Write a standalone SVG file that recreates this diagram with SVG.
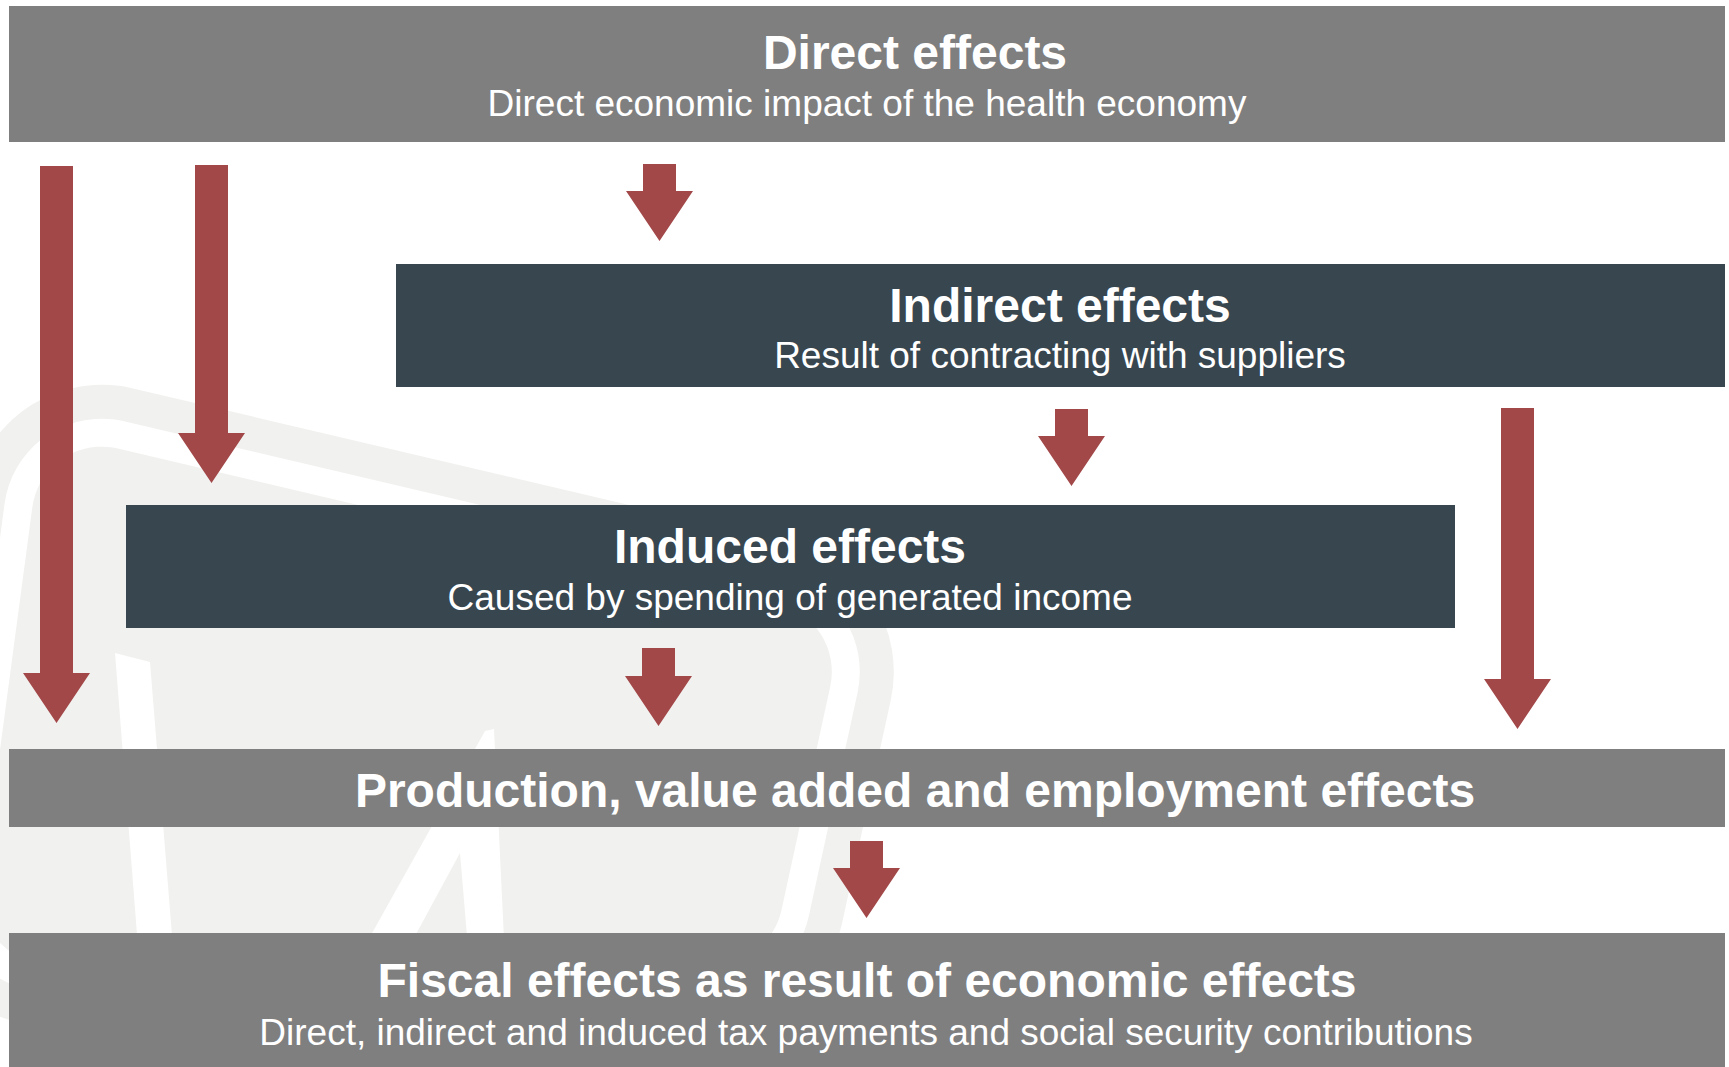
<svg xmlns="http://www.w3.org/2000/svg" width="1729" height="1067" viewBox="0 0 1729 1067">
  <style>
    .bar { fill: #7f7f7f; }
    .dark { fill: #37464f; }
    .t { font-family: "Liberation Sans", Arial, Helvetica, sans-serif; fill: #ffffff; text-anchor: middle; }
    .h { font-weight: bold; font-size: 48px; }
    .s { font-size: 37px; }
    .arrow { fill: #a34849; }
    .wm-gray { fill: #f1f1ef; stroke: #f1f1ef; stroke-linejoin: round; }
    .wm-white { fill: #ffffff; stroke: #ffffff; stroke-linejoin: round; }
  </style>
  <defs>
    <!-- core polygon of the faint background emblem; rounded rings are built by stroking it -->
    <path id="emblem" d="M101.7,516.7 L761.8,671.8 L713.1,895 L51.3,895 Z"/>
  </defs>

  <rect width="1729" height="1067" fill="#ffffff"/>

  <!-- faint background emblem -->
  <g id="emblem-bg">
    <use href="#emblem" class="wm-gray" stroke-width="264"/>
    <use href="#emblem" class="wm-white" stroke-width="196"/>
    <use href="#emblem" class="wm-gray" stroke-width="140"/>
    <polygon fill="#ffffff" points="115,653 150,662 174,960 139,960"/>
    <polygon fill="#ffffff" points="485,731 494,729 505,960 469,960 460,853 402,960 357,960"/>
  </g>

  <g id="node-direct">
    <rect class="bar" x="9" y="6" width="1716" height="136"/>
    <text class="t h" x="915" y="69">Direct effects</text>
    <text class="t s" x="867" y="116">Direct economic impact of the health economy</text>
  </g>

  <g id="node-indirect">
    <rect class="dark" x="396" y="264" width="1329" height="123"/>
    <text class="t h" x="1060" y="322">Indirect effects</text>
    <text class="t s" x="1060" y="368">Result of contracting with suppliers</text>
  </g>

  <g id="node-induced">
    <rect class="dark" x="126" y="505" width="1329" height="123"/>
    <text class="t h" x="790" y="563">Induced effects</text>
    <text class="t s" x="790" y="610">Caused by spending of generated income</text>
  </g>

  <g id="node-production">
    <rect class="bar" x="9" y="749" width="1716" height="78"/>
    <text class="t h" x="915" y="807">Production, value added and employment effects</text>
  </g>

  <g id="node-fiscal">
    <rect class="bar" x="9" y="933" width="1716" height="134"/>
    <text class="t h" x="867" y="997">Fiscal effects as result of economic effects</text>
    <text class="t s" x="866" y="1045">Direct, indirect and induced tax payments and social security contributions</text>
  </g>

  <g id="connectors">
    <path class="arrow" d="M40,166 H73 V673 H90 L56.5,723 L23,673 H40 Z"/>
    <path class="arrow" d="M195,165 H228 V433 H245 L211.5,483 L178,433 H195 Z"/>
    <path class="arrow" d="M643,164 H676 V191 H693 L659.5,241 L626,191 H643 Z"/>
    <path class="arrow" d="M1055,409 H1088 V436 H1105 L1071.5,486 L1038,436 H1055 Z"/>
    <path class="arrow" d="M1501,408 H1534 V679 H1551 L1517.5,729 L1484,679 H1501 Z"/>
    <path class="arrow" d="M642,648 H675 V676 H692 L658.5,726 L625,676 H642 Z"/>
    <path class="arrow" d="M850,841 H883 V868 H900 L866.5,918 L833,868 H850 Z"/>
  </g>
</svg>
